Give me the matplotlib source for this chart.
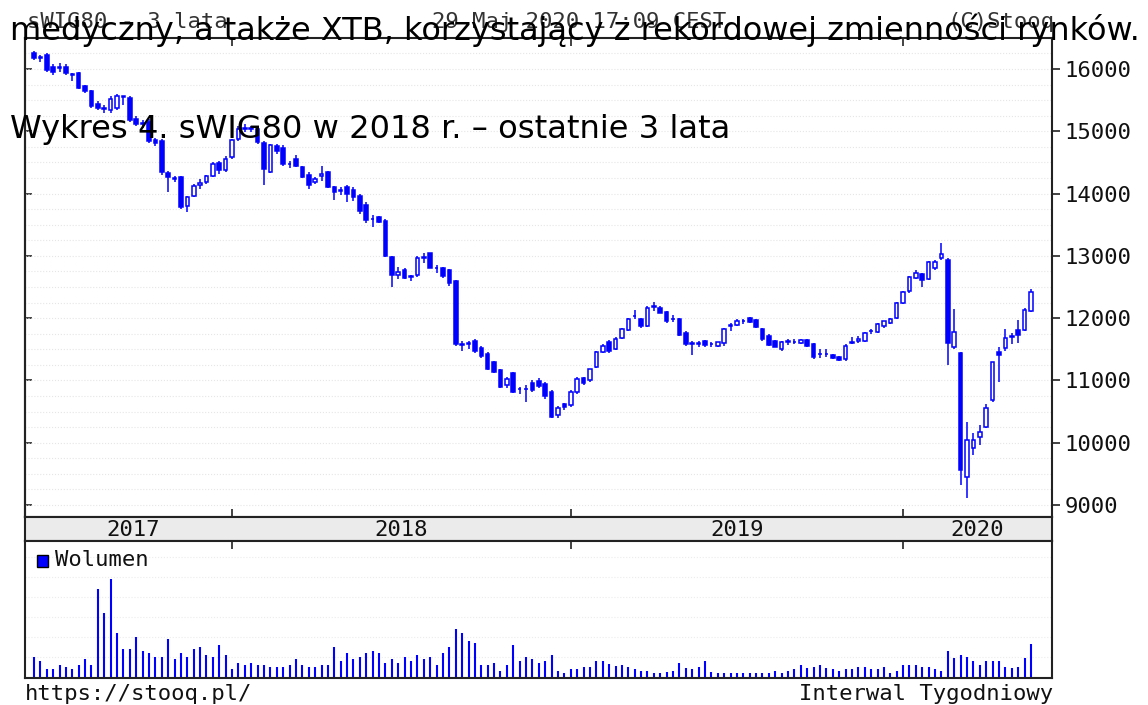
import numpy as np
import pandas as pd
import matplotlib
matplotlib.use("Agg")
import matplotlib.pyplot as plt
from matplotlib.patches import Rectangle

# ---------------- data (weekly candles, sWIG80) ----------------
week_start = pd.date_range("2017-05-29", periods=157, freq="W-MON")

opens = [16250, 16180, 16230, 16040, 16010, 16040, 15920, 15930, 15720, 15640,
         15440, 15370, 15340, 15380, 15560, 15530, 15200, 15120, 15150, 14860,
         14840, 14330, 14250, 14260, 13800, 13960, 14130, 14180, 14280, 14490,
         14380, 14580, 14880, 15040, 15050, 15030, 14820, 14350, 14760, 14740,
         14480, 14560, 14430, 14300, 14190, 14280, 14340, 14100, 14050, 14100,
         14050, 13960, 13820, 13600, 13620, 13560, 12990, 12690, 12780, 12680,
         12690, 12970, 13040, 12810, 12800, 12770, 12590, 11590, 11580, 11640,
         11520, 11420, 11290, 11160, 10930, 11120, 10860, 10860, 10960, 10990,
         10950, 10820, 10440, 10620, 10600, 10810, 11040, 11000, 11220, 11460,
         11620, 11510, 11680, 11810, 12030, 11980, 11880, 12180, 12170, 12100,
         11990, 11990, 11760, 11600, 11590, 11630, 11580, 11550, 11600, 11880,
         11890, 11960, 12000, 11970, 11830, 11710, 11640, 11510, 11620, 11620,
         11600, 11650, 11580, 11420, 11420, 11410, 11380, 11340, 11600, 11640,
         11640, 11790, 11780, 11870, 11930, 12000, 12240, 12430, 12650, 12710,
         12630, 12800, 12960, 12940, 11540, 11440, 9450, 9920, 10090, 10260,
         10680, 11460, 11520, 11700, 11810, 11810, 12120]
highs = [16290, 16230, 16260, 16080, 16090, 16080, 15940, 15960, 15740, 15660,
         15480, 15420, 15560, 15600, 15570, 15560, 15250, 15180, 15190, 14900,
         14870, 14360, 14290, 14290, 13960, 14150, 14230, 14300, 14510, 14520,
         14600, 14870, 15080, 15120, 15090, 15060, 14840, 14800, 14800, 14780,
         14520, 14620, 14450, 14340, 14260, 14450, 14360, 14120, 14100, 14130,
         14110, 13990, 13860, 13660, 13640, 13590, 13000, 12820, 12800, 12700,
         13000, 13040, 13050, 12850, 12820, 12790, 12610, 11630, 11640, 11670,
         11560, 11450, 11310, 11180, 11060, 11140, 10900, 10920, 11000, 11040,
         10970, 10840, 10590, 10640, 10840, 11050, 11060, 11190, 11470, 11580,
         11650, 11690, 11850, 12000, 12130, 12000, 12190, 12260, 12190, 12110,
         12050, 12000, 11790, 11640, 11640, 11650, 11620, 11620, 11850, 11920,
         11980, 11990, 12020, 11990, 11850, 11740, 11650, 11640, 11670, 11660,
         11670, 11670, 11600, 11500, 11510, 11430, 11400, 11580, 11690, 11710,
         11780, 11830, 11920, 11960, 12000, 12260, 12440, 12680, 12780, 12730,
         12920, 12930, 13210, 12960, 12140, 11450, 10340, 10160, 10290, 10620,
         11300, 11540, 11830, 11760, 11970, 12160, 12470]
lows = [16150, 16120, 15960, 15900, 15960, 15900, 15800, 15680, 15620, 15380,
        15350, 15300, 15300, 15350, 15430, 15150, 15080, 15060, 14820, 14760,
        14300, 14020, 14180, 13760, 13700, 13940, 14080, 14160, 14260, 14320,
        14350, 14560, 14850, 14990, 14990, 14800, 14140, 14330, 14630, 14440,
        14410, 14420, 14250, 14080, 14150, 14200, 14090, 13900, 13980, 13870,
        13880, 13680, 13530, 13470, 13530, 12980, 12500, 12630, 12630, 12600,
        12660, 12890, 12800, 12720, 12640, 12520, 11560, 11470, 11510, 11440,
        11360, 11160, 11120, 10880, 10880, 10800, 10780, 10660, 10810, 10880,
        10710, 10390, 10400, 10530, 10580, 10790, 10930, 10970, 11200, 11440,
        11440, 11490, 11660, 11790, 11990, 11850, 11860, 12120, 12080, 11930,
        11940, 11710, 11560, 11410, 11540, 11540, 11540, 11530, 11560, 11800,
        11870, 11900, 11930, 11840, 11640, 11550, 11530, 11480, 11570, 11580,
        11580, 11540, 11340, 11360, 11380, 11340, 11320, 11320, 11580, 11600,
        11620, 11740, 11760, 11850, 11910, 11990, 12220, 12410, 12630, 12500,
        12610, 12780, 12930, 11250, 11500, 9320, 9110, 9800, 9970, 10240,
        10660, 10980, 11480, 11580, 11600, 11790, 12100]
closes = [16170, 16190, 15990, 15950, 16040, 15930, 15910, 15700, 15650, 15400,
          15380, 15360, 15520, 15560, 15555, 15180, 15110, 15130, 14850, 14820,
          14340, 14260, 14240, 13790, 13940, 14120, 14170, 14280, 14480, 14380,
          14560, 14860, 15040, 15060, 15030, 14830, 14400, 14780, 14680, 14480,
          14470, 14440, 14270, 14140, 14230, 14320, 14100, 14020, 14040, 13990,
          13950, 13720, 13570, 13590, 13550, 13000, 12700, 12740, 12650, 12660,
          12970, 12980, 12810, 12800, 12670, 12570, 11580, 11570, 11600, 11470,
          11400, 11190, 11140, 10900, 11030, 10820, 10870, 10870, 10840, 10910,
          10750, 10420, 10560, 10580, 10810, 11030, 10960, 11180, 11450, 11560,
          11480, 11670, 11830, 11980, 12040, 11870, 12170, 12190, 12090, 11950,
          11980, 11730, 11590, 11580, 11600, 11570, 11590, 11610, 11830, 11890,
          11960, 11950, 11940, 11860, 11660, 11570, 11540, 11620, 11630, 11610,
          11650, 11560, 11370, 11430, 11430, 11360, 11330, 11560, 11610, 11660,
          11760, 11800, 11900, 11950, 11980, 12240, 12420, 12660, 12720, 12620,
          12900, 12900, 13030, 11600, 11780, 9560, 10040, 10040, 10170, 10560,
          11290, 11410, 11680, 11720, 11730, 12130, 12420]
volume = [20, 16, 8, 8, 12, 10, 8, 12, 18, 12,
          88, 64, 98, 44, 28, 28, 40, 26, 24, 20,
          20, 38, 18, 24, 20, 28, 30, 22, 20, 32,
          22, 8, 14, 12, 14, 12, 12, 10, 10, 10,
          12, 18, 12, 10, 10, 12, 12, 30, 16, 24,
          18, 20, 24, 26, 24, 14, 18, 14, 20, 16,
          22, 18, 20, 12, 24, 30, 48, 44, 36, 34,
          12, 12, 14, 6, 12, 32, 16, 20, 18, 14,
          16, 22, 6, 4, 8, 8, 10, 10, 16, 16,
          13, 11, 12, 10, 8, 6, 6, 4, 4, 5,
          6, 14, 9, 8, 10, 16, 5, 4, 4, 4,
          4, 4, 4, 4, 4, 4, 6, 4, 6, 8,
          12, 9, 10, 12, 9, 8, 6, 8, 8, 10,
          10, 8, 8, 10, 4, 6, 12, 12, 12, 10,
          10, 8, 6, 26, 19, 22, 20, 16, 12, 16,
          16, 16, 10, 9, 10, 19, 33]

price_ticks = [9000, 10000, 11000, 12000, 13000, 14000, 15000, 16000]
header_left = "sWIG80 - 3 lata"
header_mid = "29 Maj 2020 17:09 CEST"
header_right = "(C)Stooq"
footer_left = "https://stooq.pl/"
footer_right = "Interwal Tygodniowy"
legend_label = "Wolumen"
overlay_1 = "medyczny, a także XTB, korzystający z rekordowej zmienności rynków."
overlay_2 = "Wykres 4. sWIG80 w 2018 r. \u2013 ostatnie 3 lata"

# ---------------- layout ----------------
W, H = 1148, 705
BLUE = "#0000ff"
DARK = "#222222"
MONO = "DejaVu Sans Mono"

def fx(px):
    return px / W

def fy(py):
    return 1 - py / H

fig = plt.figure(figsize=(W / 100, H / 100), dpi=100)
fig.patch.set_facecolor("white")

L, R = 25, 1052
ax = fig.add_axes([fx(L), fy(517), (R - L) / W, (517 - 38) / H])
ax_band = fig.add_axes([fx(L), fy(541), (R - L) / W, (541 - 517) / H])
ax_vol = fig.add_axes([fx(L), fy(678), (R - L) / W, (678 - 541) / H])

n = len(closes)
xi = np.arange(n)
o = np.array(opens, float)
h = np.array(highs, float)
lo = np.array(lows, float)
c = np.array(closes, float)

# year boundaries: first week of each new year
years = week_start.year
year_ticks = [i for i in range(1, n) if years[i] != years[i - 1]]
xlim = (-1.4, 159.3)

# candles
ax.vlines(xi, lo, h, color=BLUE, linewidth=1.1, zorder=2)
up = c >= o
body_bottom = np.minimum(o, c)
body_h = np.abs(c - o)
ax.bar(xi[up], body_h[up], bottom=body_bottom[up], width=0.56,
       facecolor="white", edgecolor=BLUE, linewidth=1.1, zorder=3)
ax.bar(xi[~up], body_h[~up], bottom=body_bottom[~up], width=0.56,
       facecolor=BLUE, edgecolor=BLUE, linewidth=1.1, zorder=3)

ax.set_xlim(*xlim)
ax.set_ylim(8808, 16498)
ax.set_yticks(price_ticks)
ax.set_yticks(np.arange(9000, 16500, 250), minor=True)
ax.yaxis.set_ticks_position("right")
ax.tick_params(axis="y", which="major", direction="out", length=6, width=1.2,
               labelsize=16, pad=3, labelcolor="#111111", color=DARK)
ax.tick_params(axis="y", which="minor", length=0)
for lab in ax.get_yticklabels():
    lab.set_fontfamily(MONO)
ax.grid(True, axis="y", which="both", color="#e6e6e6", linestyle=":", linewidth=0.8, zorder=0)
ax.set_xticks(year_ticks)
ax.tick_params(axis="x", which="major", direction="in", top=True, bottom=True,
               length=6, width=1.2, labelbottom=False, color=DARK)
sec = ax.secondary_yaxis("left")
sec.set_yticks(price_ticks)
sec.tick_params(direction="in", length=5, width=1.2, labelleft=False, color=DARK)
sec.spines["left"].set_color(DARK)
sec.spines["left"].set_linewidth(1.5)

# year band
ax_band.set_facecolor("#ebebeb")
ax_band.set_xlim(*xlim)
ax_band.set_ylim(0, 1)
ax_band.set_xticks([])
ax_band.set_yticks([])
bounds = [0] + year_ticks + [xlim[1]]
labels = [str(y) for y in sorted(set(years))]
for k, lab in enumerate(labels):
    cx = (bounds[k] + bounds[k + 1]) / 2
    ax_band.text(cx, 0.45, lab, ha="center", va="center", fontsize=16,
                 family=MONO, color="#111111")

# volume
ax_vol.vlines(xi, 0, volume, color=BLUE, linewidth=1.5)
ax_vol.set_xlim(*xlim)
ax_vol.set_ylim(-1.5, 135.5)
ax_vol.set_yticks([20, 40, 60, 80, 100, 120])
ax_vol.tick_params(axis="y", length=0, labelleft=False)
ax_vol.grid(True, axis="y", color="#ececec", linestyle=":", linewidth=0.8)
ax_vol.set_xticks(year_ticks)
ax_vol.tick_params(axis="x", direction="in", top=True, bottom=False, length=6,
                   width=1.2, labelbottom=False, color=DARK)

for a in (ax, ax_band, ax_vol):
    for s in a.spines.values():
        s.set_color(DARK)
        s.set_linewidth(1.5)

# legend in volume panel
fig.patches.append(Rectangle((fx(37), fy(567)), 11 / W, 12 / H, transform=fig.transFigure,
                             facecolor=BLUE, edgecolor="black", linewidth=1.0, zorder=5))
fig.text(fx(55), fy(560), legend_label, fontsize=16, family=MONO, color="#111111",
         ha="left", va="center")

# header / footer texts
fig.text(fx(27), fy(28), header_left, fontsize=16, family=MONO, color="#333333",
         ha="left", va="baseline", zorder=2)
fig.text(fx(432), fy(28), header_mid, fontsize=16, family=MONO, color="#333333",
         ha="left", va="baseline", zorder=2)
fig.text(fx(1054), fy(28), header_right, fontsize=16, family=MONO, color="#333333",
         ha="right", va="baseline", zorder=2)
fig.text(fx(25), fy(700), footer_left, fontsize=16, family=MONO, color="#111111",
         ha="left", va="baseline")
fig.text(fx(1053), fy(700), footer_right, fontsize=16, family=MONO, color="#111111",
         ha="right", va="baseline")

# overlaid article text
t1 = fig.text(fx(10), fy(40), overlay_1, fontsize=20, family="DejaVu Sans",
              color="black", ha="left", va="baseline", zorder=6)
t2 = fig.text(fx(10), fy(138), overlay_2, fontsize=20, family="DejaVu Sans",
              color="black", ha="left", va="baseline", zorder=6)
fig.canvas.draw()
rend = fig.canvas.get_renderer()
for t, target in ((t1, 1133), (t2, 720)):
    w = t.get_window_extent(renderer=rend).width
    t.set_fontsize(20 * target / w)

fig.savefig("out.png", dpi=100)
